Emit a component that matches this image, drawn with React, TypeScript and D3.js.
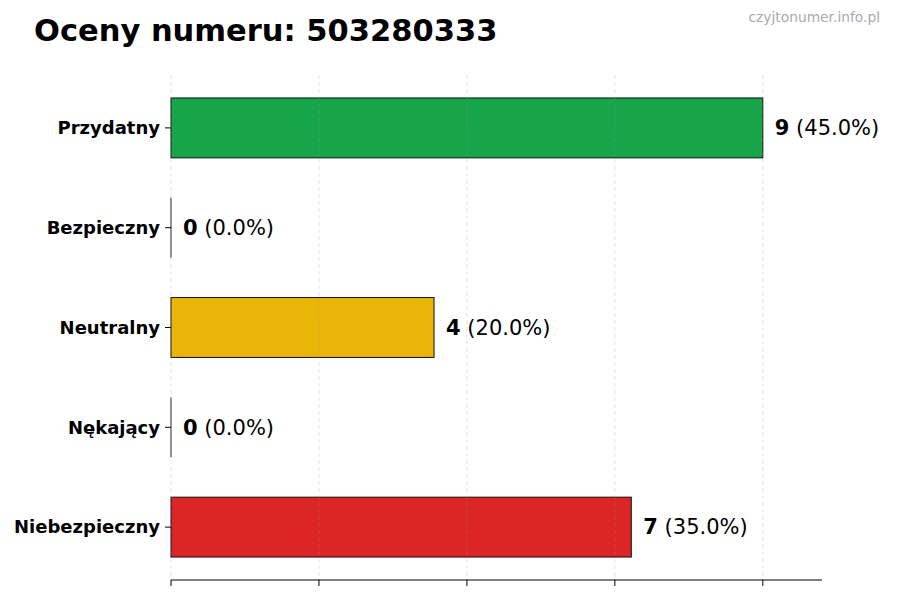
import React from 'react'
import * as d3 from 'd3'

const categories = ['Przydatny', 'Bezpieczny', 'Neutralny', 'Nękający', 'Niebezpieczny']
const counts = [9, 0, 4, 0, 7]
const percents = ['45.0%', '0.0%', '20.0%', '0.0%', '35.0%']
const colors = ['#17a54a', '#3b82f6', '#e9b509', '#9333ea', '#dc2626']
const xTicks = [0, 2.25, 4.5, 6.75, 9]

const W = 900
const H = 600
const left = 171
const right = 822
const top = 75
const bottom = 580

export default function App() {
  const xMax = d3.max(counts)! * 1.1
  const x = d3.scaleLinear().domain([0, xMax]).range([left, right])
  const y = d3.scaleLinear().domain([-0.53, categories.length - 0.47]).range([top, bottom])
  const barH = (y(1) - y(0)) * 0.6
  const font = 'DejaVu Sans, sans-serif'

  return (
    <svg width={W} height={H} style={{ position: 'absolute', left: 0, top: 0 }} fontFamily={font}>
      <rect width={W} height={H} fill="white" />
      <text x={34} y={41} fontSize={30.5} fontWeight="bold" fill="#000">Oceny numeru: 503280333</text>
      <text x={880} y={22} fontSize={13.8} fill="#aaaaaa" textAnchor="end">czyjtonumer.info.pl</text>

      {categories.map((c, i) => {
        const cy = y(i)
        const w = x(counts[i]) - x(0)
        return (
          <g key={c}>
            {w > 0 ? (
              <rect
                x={x(0)}
                y={cy - barH / 2}
                width={w}
                height={barH}
                fill={colors[i]}
                stroke="#111"
                strokeWidth={1}
              />
            ) : (
              <line x1={x(0)} x2={x(0)} y1={cy - barH / 2} y2={cy + barH / 2} stroke="#222" strokeWidth={1} />
            )}
            <line x1={left - 6} x2={left} y1={cy} y2={cy} stroke="#000" strokeWidth={1} />
            <text x={left - 11} y={cy} dy="0.35em" textAnchor="end" fontSize={18} fontWeight="bold" fill="#000">{c}</text>
            <text x={x(counts[i]) + 12} y={cy} dy="0.35em" fontSize={21} fill="#000">
              <tspan fontWeight="bold">{counts[i]}</tspan>
              <tspan> ({percents[i]})</tspan>
            </text>
          </g>
        )
      })}

      {/* faint dashed grid, drawn over the bars like the original */}
      {xTicks.map(t => (
        <line key={'g' + t} x1={x(t)} x2={x(t)} y1={top} y2={bottom} stroke="#999" strokeOpacity={0.35} strokeDasharray="4,3" strokeWidth={0.8} />
      ))}

      {xTicks.map(t => (
        <line key={'t' + t} x1={x(t)} x2={x(t)} y1={bottom} y2={bottom + 6} stroke="#000" strokeWidth={1} />
      ))}
      <line x1={left} x2={right} y1={bottom} y2={bottom} stroke="#000" strokeWidth={1} />
    </svg>
  )
}
